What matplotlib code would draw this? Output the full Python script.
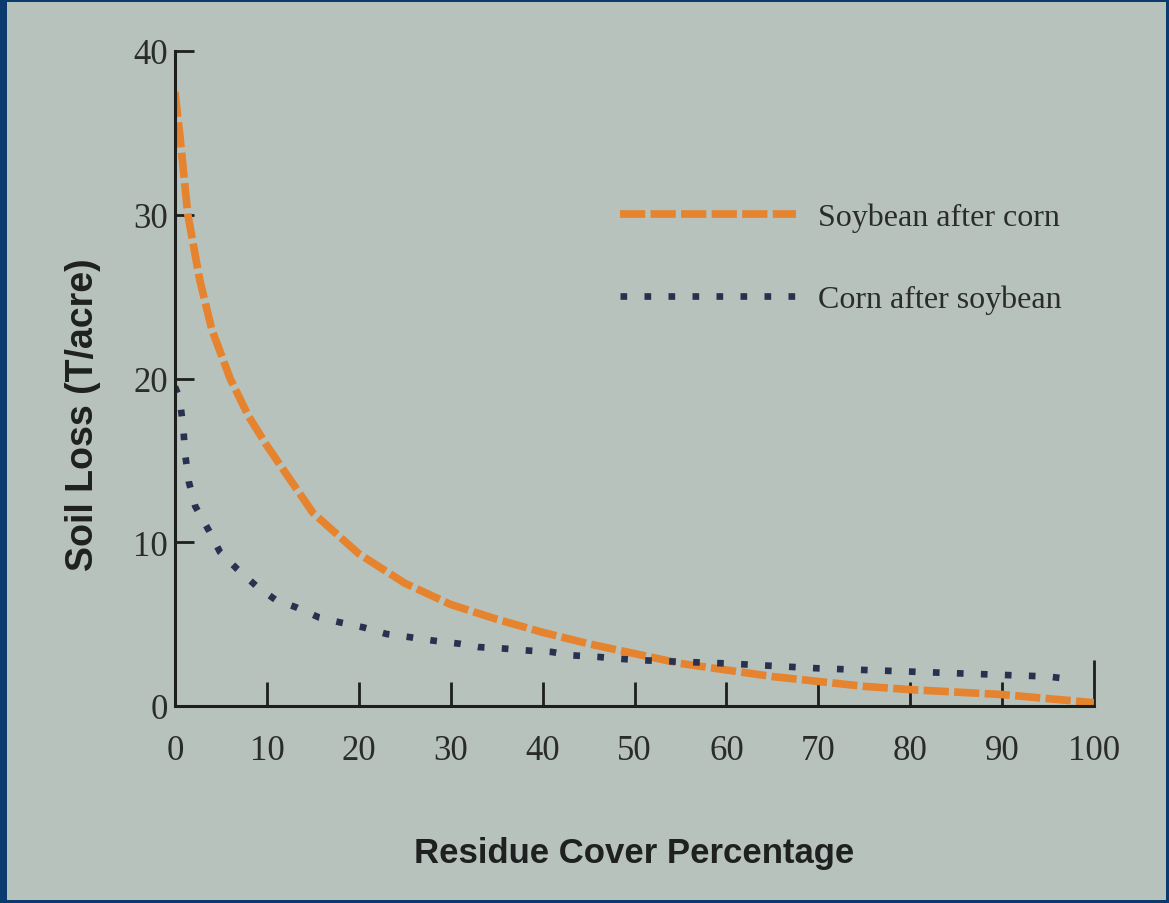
import matplotlib
matplotlib.use("Agg")
import matplotlib.pyplot as plt
from matplotlib.patches import Rectangle

# Soybean after corn (orange dashed)
soy_x = [0, 0.5, 1.4, 2.7, 4, 6, 8, 10, 15, 20, 25, 30, 35, 40, 45, 50,
         55, 60, 65, 70, 75, 80, 85, 90, 95, 100]
soy_y = [37.5, 35, 30, 26, 23, 20, 17.7, 15.9, 11.8, 9.3, 7.5, 6.2, 5.3, 4.5, 3.8, 3.2,
         2.6, 2.2, 1.8, 1.5, 1.2, 1.0, 0.85, 0.7, 0.45, 0.2]

# Corn after soybean (blue dotted)
corn_x = [0, 0.5, 0.9, 1.1, 1.5, 2.2, 3.7, 4.9, 6.7, 8.9, 10.9, 13.3, 15.7, 18, 20.5,
          23, 25.6, 28, 31, 33, 36, 38, 41, 43, 46, 48, 50.5, 55, 60, 70, 80, 90, 95, 98]
corn_y = [19.5, 18.8, 17, 15.4, 13.7, 12.2, 10.7, 9.4, 8.4, 7.3, 6.5, 6.0, 5.4, 5.1, 4.8,
          4.4, 4.2, 4.0, 3.8, 3.6, 3.5, 3.4, 3.3, 3.1, 3.0, 2.9, 2.8, 2.7, 2.6, 2.3, 2.1, 1.9, 1.8, 1.6]

x_ticks = [0, 10, 20, 30, 40, 50, 60, 70, 80, 90, 100]
y_ticks = [0, 10, 20, 30, 40]

bg = "#b8c2bc"
navy = "#0b3a6f"
ink = "#1c1f1e"

fig = plt.figure(figsize=(11.69, 9.04), dpi=100, facecolor=navy)
fig.patches.append(Rectangle((7 / 1169, 3 / 904), (1166 - 7) / 1169, (901 - 3) / 904,
                             transform=fig.transFigure, facecolor=bg, edgecolor="none", zorder=-10))

ax = fig.add_axes([175 / 1169, 197 / 904, (1094 - 175) / 1169, (707 - 52) / 904])
ax.set_facecolor("none")

ax.plot(soy_x, soy_y, color="#e5832f", lw=5.5, linestyle=(0, (3.3, 0.7)),
        label="Soybean after corn", zorder=3)
ax.plot(corn_x, corn_y, color="#28314f", lw=4.8, linestyle=(0, (1, 2.6)),
        label="Corn after soybean", zorder=4)

ax.set_xlim(0, 100)
ax.set_ylim(0, 40)
ax.set_xticks(x_ticks)
ax.set_yticks(y_ticks)

for s in ["top", "right"]:
    ax.spines[s].set_visible(False)
for s in ["left", "bottom"]:
    ax.spines[s].set_linewidth(2.2)
    ax.spines[s].set_color(ink)
    ax.spines[s].set_zorder(5)

ax.tick_params(axis="x", direction="in", length=17, width=2, color=ink, pad=20,
               labelsize=25, labelcolor="#2a2c2b")
ax.tick_params(axis="y", direction="in", length=14, width=2, color=ink, pad=5,
               labelsize=25, labelcolor="#2a2c2b")
ax.xaxis.get_major_ticks()[-1].tick1line.set_markersize(33)
for lab in ax.get_xticklabels() + ax.get_yticklabels():
    lab.set_family("Liberation Serif")

label_font = dict(family=["Liberation Sans Narrow", "Liberation Sans"], weight="bold",
                  size=25, color="#1e2120")
ax.set_xlabel("Residue Cover Percentage", labelpad=50, **label_font)
ax.set_ylabel("Soil Loss (T/acre)", fontsize=27,
              **{k: v for k, v in label_font.items() if k != "size"})
ax.yaxis.set_label_coords(-0.081, 0.447)

leg = ax.legend(loc="upper left", bbox_to_anchor=(0.453, 0.812), frameon=False,
                handlelength=5.5, handletextpad=0.7, labelspacing=1.64,
                prop=dict(family="Liberation Serif", size=23))
for t in leg.get_texts():
    t.set_color("#2a2c2b")

fig.savefig("out.png", dpi=100, facecolor=navy)
